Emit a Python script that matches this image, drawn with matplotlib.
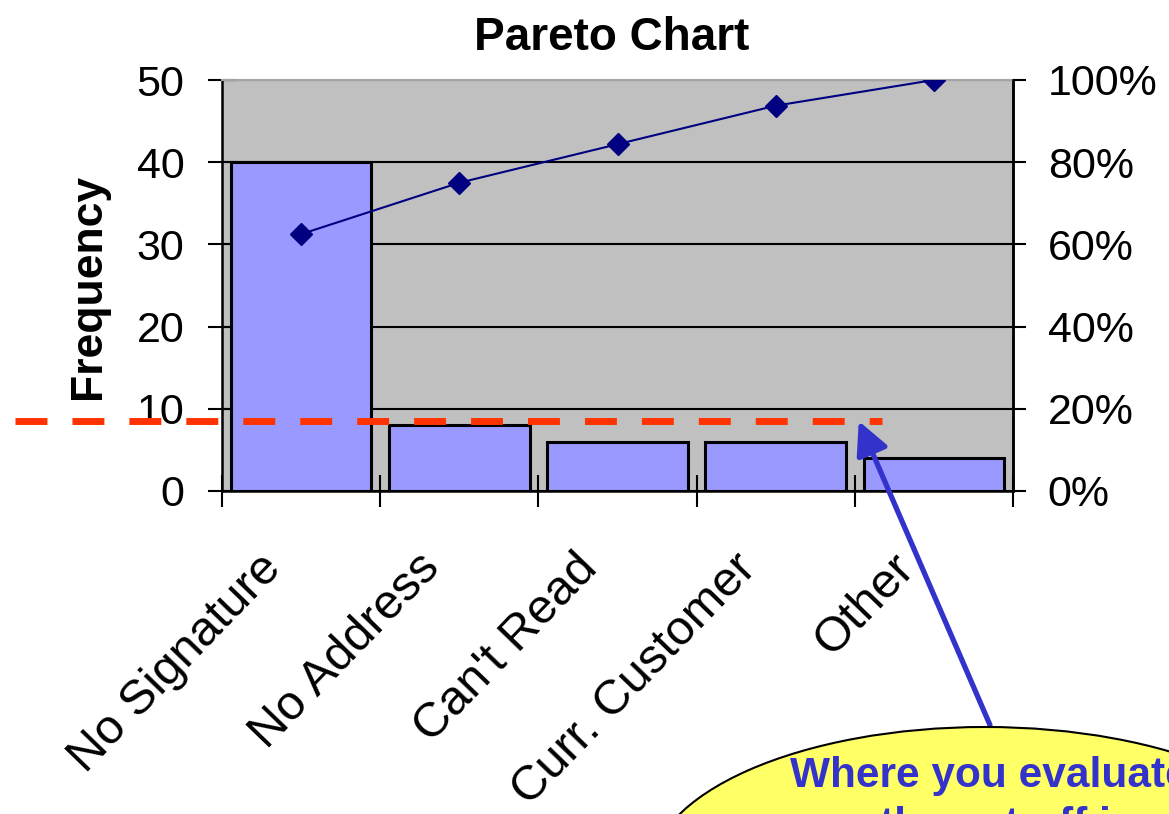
import matplotlib
matplotlib.use("Agg")
import matplotlib.pyplot as plt
import matplotlib.transforms as mtransforms
from matplotlib.patches import Ellipse
import numpy as np

# ---- data ----
categories = ["No Signature", "No Address", "Can't Read", "Curr. Customer", "Other"]
frequency = [40, 8, 6, 6, 4]
freq_ticks = [0, 10, 20, 30, 40, 50]
pct_ticks = [0.0, 0.2, 0.4, 0.6, 0.8, 1.0]
pct_labels = ["0%", "20%", "40%", "60%", "80%", "100%"]
cutoff_level = 8.5
title = "Pareto Chart"
ylabel = "Frequency"
callout_lines = ["Where you evaluate", "the cut-off is"]

cum_pct = np.cumsum(frequency) / np.sum(frequency)

W, H = 1169, 814
fig = plt.figure(figsize=(W / 100, H / 100), dpi=100)
fig.patch.set_facecolor("white")

regular = ["Liberation Sans", "DejaVu Sans"]
bold = ["Liberation Sans", "DejaVu Sans"]


def fx(px):
    return px / W


def fy(py):
    return 1 - py / H


ax = fig.add_axes([fx(222), fy(491), fx(1013) - fx(222), fy(80) - fy(491)])
ax.set_facecolor("#C0C0C0")
x = np.arange(len(categories))

ax.set_axisbelow(True)
ax.yaxis.grid(True, color="black", linewidth=1.5)
ax.bar(x, frequency, width=0.89, color="#9999FF", edgecolor="black",
       linewidth=2.2, zorder=2)

ax.set_xlim(-0.5, len(categories) - 0.5)
ax.set_ylim(0, 50)
ax.set_yticks(freq_ticks)
ax.set_yticklabels([str(v) for v in freq_ticks], family=regular, fontsize=31)
ax.tick_params(axis="y", direction="inout", length=20, width=1.5, pad=17)

# category boundaries carry the tick marks
ax.set_xticks(np.arange(-0.5, len(categories), 1.0), minor=True)
ax.set_xticks([])
ax.tick_params(axis="x", which="minor", direction="inout", length=23, width=1.5)

for side in ("left", "bottom", "right"):
    ax.spines[side].set_color("black")
    ax.spines[side].set_linewidth(1.8)
ax.spines["top"].set_color("#a4a4a4")
ax.spines["top"].set_linewidth(1.5)

# rotated category labels
offset = mtransforms.ScaledTranslation(-27 / 100, -70 / 100, fig.dpi_scale_trans)
for xi, lab in zip(x, categories):
    ax.text(xi, 0, lab, transform=ax.get_xaxis_transform() + offset,
            rotation=46, rotation_mode="anchor", ha="right", va="center",
            family=regular, fontsize=35)

# cumulative percentage on secondary axis
ax2 = ax.twinx()
ax2.set_ylim(0, 1)
ax2.plot(x, cum_pct, color="#000080", linewidth=1.5, marker="D",
         markersize=11, zorder=4)
ax2.set_yticks(pct_ticks)
ax2.set_yticklabels(pct_labels, family=regular, fontsize=31)
ax2.tick_params(axis="y", direction="out", length=9, width=1.5, pad=16)
for side in ("left", "bottom", "top"):
    ax2.spines[side].set_visible(False)
ax2.spines["right"].set_color("black")
ax2.spines["right"].set_linewidth(1.8)

# cut-off marker line
cut_tr = mtransforms.blended_transform_factory(ax.transAxes, ax.transData)
ax2.plot([-0.262, 0.834], [cutoff_level, cutoff_level], transform=cut_tr,
         color="#FF3300", linewidth=5, dashes=(4.6, 3.6),
         solid_capstyle="butt", dash_capstyle="butt", clip_on=False, zorder=6)

# titles
fig.text(fx(612), fy(50), title, ha="center", va="baseline",
         family=bold, fontweight="bold", fontsize=33)
fig.text(fx(89), fy(286), ylabel, ha="center", va="center", rotation=90,
         family=bold, fontweight="bold", fontsize=32)

# callout pointing at the cut-off
ax2.annotate("", xy=(0.805, cutoff_level), xycoords=cut_tr,
             xytext=(fx(990), fy(725)), textcoords="figure fraction",
             arrowprops=dict(arrowstyle="-|>", color="#3333CC", lw=3.8,
                             mutation_scale=50, shrinkA=0, shrinkB=0),
             zorder=7, annotation_clip=False)

bubble = Ellipse((fx(985), fy(875)), width=fx(670), height=296 / H,
                 transform=fig.transFigure, facecolor="#FFFF66",
                 edgecolor="black", linewidth=1.5, zorder=8)
fig.add_artist(bubble)
fig.text(fx(790), fy(787), callout_lines[0], ha="left", va="baseline",
         color="#3333CC", family=bold, fontweight="bold", fontsize=30.5,
         zorder=9)
fig.text(fx(880), fy(837), callout_lines[1], ha="left", va="baseline",
         color="#3333CC", family=bold, fontweight="bold", fontsize=30.5,
         zorder=9)

fig.savefig("out.png", dpi=100)
